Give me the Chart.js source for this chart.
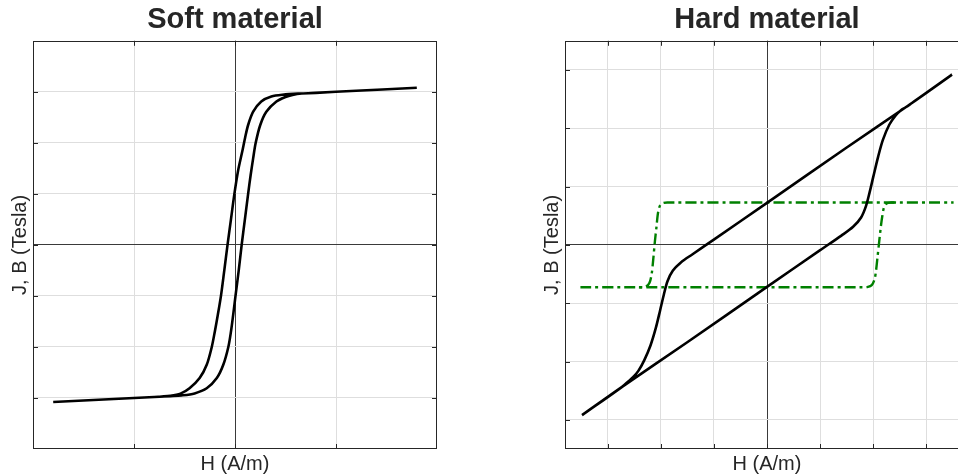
<!DOCTYPE html>
<html>
<head>
<meta charset="utf-8">
<title>Soft vs hard magnetic material</title>
<script src="https://cdn.jsdelivr.net/npm/chart.js@4.4.1/dist/chart.umd.min.js"></script>
<style>
    html, body { margin: 0; padding: 0; background: #fff; overflow: hidden; width: 958px; height: 476px; }
    .panel { position: absolute; top: 0; width: 480px; height: 476px; }
    #soft-wrap { left: 0; }
    #hard-wrap { left: 532px; }
</style>
</head>
<body>
<div class="panel" id="soft-wrap"><canvas id="softChart" width="480" height="476"></canvas></div>
<div class="panel" id="hard-wrap"><canvas id="hardChart" width="480" height="476"></canvas></div>
<script>
const FONT = "'Liberation Sans', Arial, Helvetica, sans-serif";
const TEXT = '#262626';

// Soft material: one closed B(H) loop (rising branch then falling branch)
const softH = [-1.80, -1.20, -0.80, -0.64, -0.53, -0.40, -0.28, -0.18, -0.116, -0.066, -0.040, -0.018, 0.005, 0.037, 0.066, 0.098, 0.13, 0.155, 0.18, 0.205, 0.25, 0.31, 0.41, 0.50, 0.57, 0.66, 0.80, 1.20, 1.80,
               1.20, 0.80, 0.66, 0.58, 0.50, 0.36, 0.26, 0.18, 0.13, 0.10, 0.075, 0.030, -0.006, -0.040, -0.074, -0.106, -0.139, -0.17, -0.20, -0.23, -0.28, -0.35, -0.45, -0.54, -0.64, -0.80, -1.20, -1.80];
const softB = [-3.08, -3.02, -2.98, -2.964, -2.95, -2.91, -2.81, -2.61, -2.35, -2.00, -1.70, -1.37, -1.00, -0.50, 0.00, 0.50, 1.00, 1.37, 1.70, 2.00, 2.35, 2.61, 2.81, 2.90, 2.94, 2.966, 2.98, 3.02, 3.08,
               3.02, 2.98, 2.966, 2.962, 2.95, 2.91, 2.81, 2.61, 2.35, 2.10, 1.86, 1.45, 1.00, 0.50, 0.00, -0.50, -1.00, -1.37, -1.70, -2.00, -2.35, -2.61, -2.81, -2.915, -2.955, -2.98, -3.02, -3.08];

// Hard material: B loop (black)
const hardBH = [-3.48, -2.72, -1.50, 0.00, 1.00, 1.40, 1.62, 1.77, 1.86, 1.93, 2.00, 2.09, 2.18, 2.30, 2.42, 2.52, 2.61, 2.72, 3.48,
                2.72, 1.50, 0.00, -1.00, -1.40, -1.62, -1.77, -1.87, -1.94, -2.01, -2.09, -2.19, -2.31, -2.42, -2.52, -2.61, -2.72, -3.48];
const hardB = [-2.92, -2.43, -1.67, -0.72, -0.09, 0.16, 0.31, 0.47, 0.66, 0.90, 1.17, 1.51, 1.80, 2.06, 2.22, 2.31, 2.36, 2.43, 2.92,
               2.43, 1.67, 0.72, 0.09, -0.16, -0.30, -0.44, -0.62, -0.85, -1.12, -1.42, -1.72, -1.98, -2.16, -2.27, -2.34, -2.43, -2.92];

// Hard material: J loop (green dash-dot), rising branch and falling branch
const hardJUpH = [-3.51, 1.80, 1.90, 1.97, 2.02, 2.05, 2.08, 2.11, 2.14, 2.17, 2.20, 2.25, 2.33, 2.45, 3.51];
const hardJUp = [-0.726, -0.726, -0.72, -0.69, -0.60, -0.45, -0.20, 0.05, 0.30, 0.50, 0.64, 0.71, 0.726, 0.726, 0.726];
const hardJDownH = [2.40, -1.85, -1.95, -2.01, -2.05, -2.08, -2.11, -2.14, -2.17, -2.21, -2.27, -2.35, -2.45];
const hardJDown = [0.726, 0.726, 0.72, 0.68, 0.55, 0.30, 0.05, -0.25, -0.50, -0.65, -0.71, -0.726, -0.726];

// axis limits and tick positions (no tick labels shown)
const softXRange = [-2, 2];
const softYRange = [-4, 4];
const softXTicks = [-1, 0, 1];
const softYTicks = [-3, -2, -1, 0, 1, 2, 3];
const hardXRange = [-3.8, 3.8];
const hardYRange = [-3.5, 3.5];
const hardXTicks = [-3, -2, -1, 0, 1, 2, 3];
const hardYTicks = [-3, -2, -1, 0, 1, 2, 3];

const toPoints = (xs, ys) => xs.map((x, i) => ({ x: x, y: ys[i] }));

const gridColor = ctx => (ctx.tick && ctx.tick.value === 0) ? '#3a3a3a' : '#dedede';

// box around the plot area with small inward ticks
const framePlugin = {
    id: 'frame',
    beforeDatasetsDraw(chart) {
        const { ctx, chartArea: a, scales } = chart;
        const len = 5;
        ctx.save();
        ctx.strokeStyle = TEXT;
        ctx.lineWidth = 1;
        ctx.strokeRect(Math.round(a.left) + 0.5, Math.round(a.top) + 0.5, Math.round(a.width) - 1, Math.round(a.height) - 1);
        ctx.beginPath();
        scales.x.ticks.forEach(t => {
            const px = Math.round(scales.x.getPixelForValue(t.value)) + 0.5;
            ctx.moveTo(px, a.bottom); ctx.lineTo(px, a.bottom - len);
            ctx.moveTo(px, a.top); ctx.lineTo(px, a.top + len);
        });
        scales.y.ticks.forEach(t => {
            const py = Math.round(scales.y.getPixelForValue(t.value)) + 0.5;
            ctx.moveTo(a.left, py); ctx.lineTo(a.left + len, py);
            ctx.moveTo(a.right, py); ctx.lineTo(a.right - len, py);
        });
        ctx.stroke();
        ctx.restore();
    }
};

function makeChart(id, title, datasets, xRange, yRange, xTicks, yTicks) {
    return new Chart(document.getElementById(id), {
        type: 'scatter',
        data: { datasets: datasets },
        options: {
            responsive: false,
            animation: false,
            layout: { padding: { left: 8, right: 43, top: 0, bottom: 0 } },
            elements: { point: { radius: 0, hoverRadius: 0 } },
            plugins: {
                legend: { display: false },
                tooltip: { enabled: false },
                title: {
                    display: true, text: title, fullSize: false, color: TEXT,
                    font: { family: FONT, size: 29, weight: 'bold' },
                    padding: { top: 3, bottom: 3 }
                }
            },
            scales: {
                x: {
                    type: 'linear', min: xRange[0], max: xRange[1],
                    afterBuildTicks: s => { s.ticks = xTicks.map(v => ({ value: v })); },
                    ticks: { display: false },
                    grid: { color: gridColor, drawTicks: false },
                    border: { display: false },
                    title: { display: true, text: 'H (A/m)', color: TEXT, font: { family: FONT, size: 20 }, padding: { top: 3, bottom: 0 } }
                },
                y: {
                    type: 'linear', min: yRange[0], max: yRange[1],
                    afterBuildTicks: s => { s.ticks = yTicks.map(v => ({ value: v })); },
                    ticks: { display: false },
                    grid: { color: gridColor, drawTicks: false },
                    border: { display: false },
                    title: { display: true, text: 'J, B (Tesla)', color: TEXT, font: { family: FONT, size: 20 }, padding: { top: 0, bottom: 1 } }
                }
            }
        },
        plugins: [framePlugin]
    });
}

const blackLine = { showLine: true, borderColor: '#000', backgroundColor: '#000', borderWidth: 2.6, tension: 0.3, fill: false };
const greenLine = { showLine: true, borderColor: '#008000', backgroundColor: '#008000', borderWidth: 2.4, borderDash: [11, 4, 3, 4], tension: 0.3, fill: false };

makeChart('softChart', 'Soft material', [
    Object.assign({ label: 'B', data: toPoints(softH, softB) }, blackLine)
], softXRange, softYRange, softXTicks, softYTicks);

makeChart('hardChart', 'Hard material', [
    Object.assign({ label: 'B', data: toPoints(hardBH, hardB) }, blackLine),
    Object.assign({ label: 'J rising', data: toPoints(hardJUpH, hardJUp) }, greenLine),
    Object.assign({ label: 'J falling', data: toPoints(hardJDownH, hardJDown) }, greenLine)
], hardXRange, hardYRange, hardXTicks, hardYTicks);
</script>
</body>
</html>
